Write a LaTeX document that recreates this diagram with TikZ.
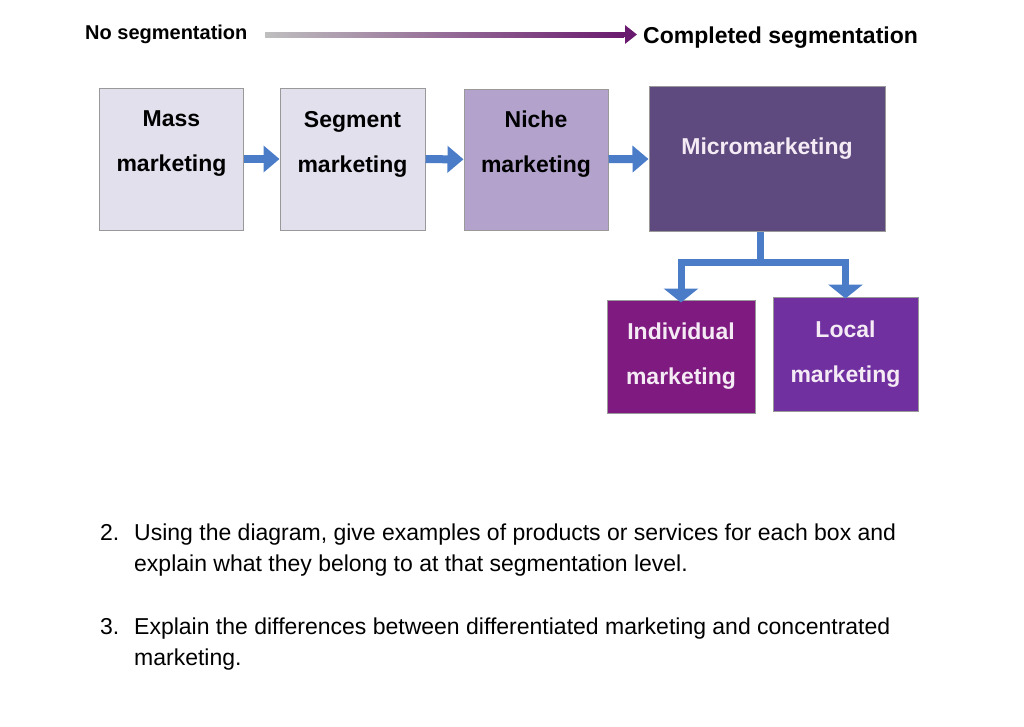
\documentclass[tikz,border=0pt]{standalone}
\usepackage{fontspec}
\setmainfont{Liberation Sans}
\usetikzlibrary{arrows.meta,positioning}
\definecolor{paleLilac}{HTML}{E3E0EE}
\definecolor{midLilac}{HTML}{B2A2CC}
\definecolor{deepViolet}{HTML}{5E4A7E}
\definecolor{plum}{HTML}{7F1A80}
\definecolor{grape}{HTML}{7030A0}
\definecolor{flowBlue}{HTML}{4A7CC8}
\definecolor{topPurple}{HTML}{6A1A6E}
\tikzset{
  level/.style={draw=gray!80, line width=1pt, minimum width=144pt, minimum height=142pt, inner sep=0pt},
  caption/.style={font=\fontsize{23}{45}\selectfont\bfseries, align=center, inner sep=0pt},
  advance/.style={-{Triangle[length=16pt,width=26pt]}, line width=8pt, flowBlue},
  branch/.style={-{Triangle[length=14pt,width=34pt]}, line width=7pt, flowBlue},
  question/.style={anchor=north west, align=left, inner sep=0pt,
    font=\fontsize{23}{31}\selectfont}
}
\begin{document}
\begin{tikzpicture}[x=1pt,y=-1pt]
  \useasboundingbox (0,0) rectangle (1024,726);
  % top scale
  \node[anchor=west, font=\fontsize{20}{22}\selectfont\bfseries, inner sep=0pt] (none) at (85,34) {No segmentation};
  \node[anchor=west, font=\fontsize{23}{26}\selectfont\bfseries, inner sep=0pt] (full) at (643,38) {Completed segmentation};
  \shade[left color=gray!50, right color=topPurple] (265,32) rectangle (624,37);
  \coordinate (scaleEnd) at (637,34.5);
  \draw[-{Triangle[length=12pt,width=18pt]}, line width=5pt, topPurple] (622,34.5) -- (scaleEnd);
  % levels
  \node[level, fill=paleLilac] (mass) at (171.5,159) {};
  \node[level, fill=paleLilac, minimum width=145pt] (segment) at (352.5,159) {};
  \node[level, fill=midLilac, minimum height=141pt] (niche) at (536,159.5) {};
  \node[level, fill=deepViolet, minimum width=236pt, minimum height=145pt] (micro) at (767,158.5) {};
  \node[level, fill=plum, minimum width=148pt, minimum height=113pt] (individual) at (681,356.5) {};
  \node[level, fill=grape, minimum width=145pt, minimum height=114pt] (local) at (845.5,354) {};
  \node[caption] (massText) at ([yshift=15pt]mass.center) {Mass\\marketing};
  \node[caption] (segmentText) at ([yshift=15pt]segment.center) {Segment\\marketing};
  \node[caption] (nicheText) at ([yshift=15pt]niche.center) {Niche\\marketing};
  \node[caption, text=white!92!violet] (microText) at ([yshift=10pt]micro.center) {Micromarketing};
  \node[caption, text=white!92!violet] (individualText) at (individual.center) {Individual\\marketing};
  \node[caption, text=white!92!violet] (localText) at (local.center) {Local\\marketing};
  \draw[advance] (mass) -- (segment);
  \draw[advance] (segment) -- (niche);
  \draw[advance] (niche) -- (micro);
  \coordinate (split) at (760,262);
  \draw[line width=7pt, flowBlue] (micro.south -| split) -- (split);
  \draw[branch] ([xshift=3.5pt]split) -| ([yshift=-3pt]individual.north);
  \draw[branch] ([xshift=-3.5pt]split) -| ([yshift=-2pt]local.north);
  % questions
  \node[question] (q2num) at (100,524) {2.};
  \node[question] (q2) at (134,524) {Using the diagram, give examples of products or services for each box and\\explain what they belong to at that segmentation level.};
  \node[question] (q3num) at (100,618) {3.};
  \node[question] (q3) at (134,618) {Explain the differences between differentiated marketing and concentrated\\marketing.};
\end{tikzpicture}
\end{document}
